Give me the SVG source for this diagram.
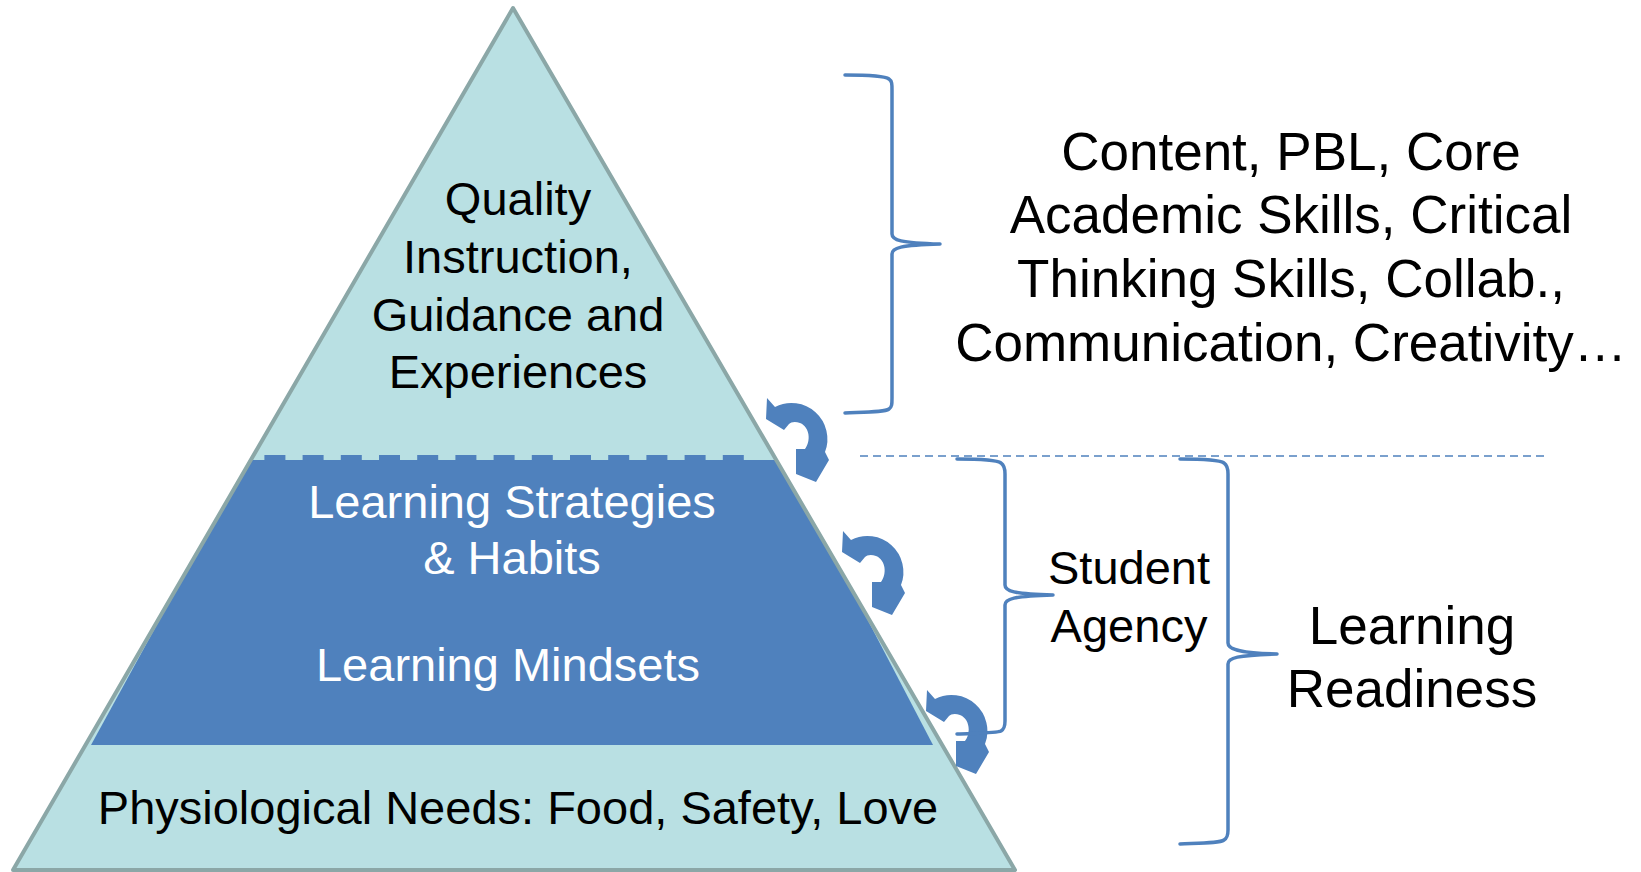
<svg xmlns="http://www.w3.org/2000/svg" width="1641" height="872" viewBox="0 0 1641 872">
  <style>
    .lbl { font-family: "Liberation Sans", Arial, sans-serif; text-anchor: middle; fill: #000000; }
    .pyr { font-size: 47px; }
    .side { font-size: 53px; }
    .inv { fill: #ffffff; }
    .brace { fill: none; stroke: #4f81bd; stroke-width: 3.5; stroke-linecap: round; stroke-linejoin: round; }
    .cycle { fill: #4f81bd; }
  </style>
  <defs>
    <!-- curved arrow, drawn around its own centre -->
    <path id="cycle-arrow" d="M -35,-35 L -27,-26 A 36 36 0 0 1 23,19 L 27,27 L 14,49 L -6,41 L -6,16 L 3,16 C 9,8 8,-6 -2,-10 C -7,-12 -11,-11 -13,-9 L -18,-3 L -36,-14 Z"/>
  </defs>

  <rect width="1641" height="872" fill="#ffffff"/>

  <!-- pyramid -->
  <g id="pyramid">
    <polygon points="513,8 1015,870 13,870" fill="#b9e0e3"/>
    <polygon points="252,460 776,460 851,588 933,745 91,745 177,588" fill="#4f81bd"/>
    <line x1="264.4" y1="457.5" x2="744" y2="457.5" stroke="#4f81bd" stroke-width="5" stroke-dasharray="21 17.2"/>
    <polygon points="513,8 1015,870 13,870" fill="none" stroke="#8ba7a7" stroke-width="4" stroke-linejoin="round"/>
  </g>

  <g id="tier-instruction">
    <text class="lbl pyr" x="518" y="215">Quality</text>
    <text class="lbl pyr" x="518" y="273">Instruction,</text>
    <text class="lbl pyr" x="518" y="331">Guidance and</text>
    <text class="lbl pyr" x="518" y="388">Experiences</text>
  </g>

  <g id="tier-strategies">
    <text class="lbl pyr inv" x="512" y="518">Learning Strategies</text>
    <text class="lbl pyr inv" x="512" y="574">&amp; Habits</text>
  </g>

  <g id="tier-mindsets">
    <text class="lbl pyr inv" x="508" y="681">Learning Mindsets</text>
  </g>

  <g id="tier-needs">
    <text class="lbl pyr" x="518" y="824">Physiological Needs: Food, Safety, Love</text>
  </g>

  <!-- arrows between tiers -->
  <g id="cycle-arrows">
    <use href="#cycle-arrow" class="cycle" transform="translate(802,433)"/>
    <use href="#cycle-arrow" class="cycle" transform="translate(878,566)"/>
    <use href="#cycle-arrow" class="cycle" transform="translate(962,725)"/>
  </g>

  <!-- braces and divider -->
  <g id="connectors">
    <line x1="860" y1="456" x2="1547" y2="456" stroke="#4f81bd" stroke-width="1.5" stroke-dasharray="8 5"/>
    <path class="brace" d="M 845,75 C 870,75 885,76 889,79 C 892,81 892,84 892,90 L 892,234 C 892,240 900,243 940,244 C 900,245 892,248 892,254 L 892,398 C 892,404 892,407 889,409 C 885,412 870,412 845,413"/>
    <path class="brace" d="M 957,459 C 982,459 997,460 1001,463 C 1004,465 1005,468 1005,474 L 1005,585 C 1005,591 1013,594 1053,595 C 1013,596 1005,599 1005,605 L 1005,721 C 1005,727 1004,729 1001,731 C 997,733 982,733 957,734"/>
    <path class="brace" d="M 1180,459 C 1205,459 1220,460 1224,463 C 1227,465 1228,468 1228,474 L 1228,643 C 1228,649 1237,653 1277,654 C 1237,655 1228,658 1228,664 L 1228,830 C 1228,836 1227,838 1224,840 C 1220,843 1205,843 1180,844"/>
  </g>

  <g id="label-content">
    <text class="lbl side" x="1291" y="170">Content, PBL, Core</text>
    <text class="lbl side" x="1291" y="233">Academic Skills, Critical</text>
    <text class="lbl side" x="1291" y="297">Thinking Skills, Collab.,</text>
    <text class="lbl side" x="1291" y="361">Communication, Creativity…</text>
  </g>

  <g id="label-agency">
    <text class="lbl pyr" x="1129" y="584">Student</text>
    <text class="lbl pyr" x="1129" y="642">Agency</text>
  </g>

  <g id="label-readiness">
    <text class="lbl side" x="1412" y="644">Learning</text>
    <text class="lbl side" x="1412" y="707">Readiness</text>
  </g>
</svg>
